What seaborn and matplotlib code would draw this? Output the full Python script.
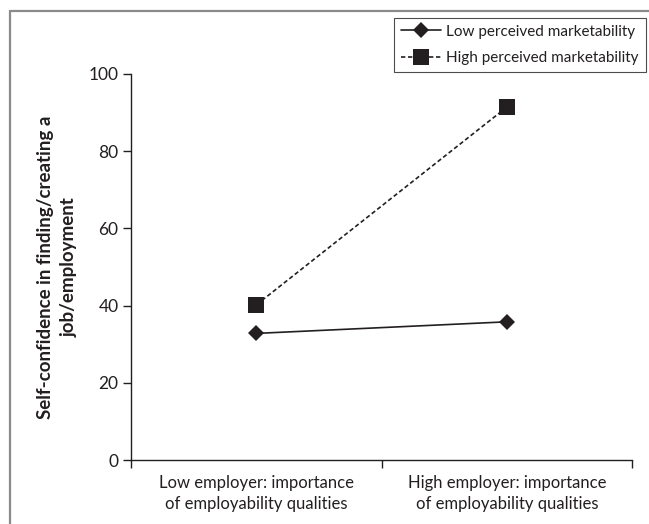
import matplotlib
matplotlib.use("Agg")
import matplotlib.pyplot as plt
import seaborn as sns
import pandas as pd
from matplotlib.lines import Line2D

categories = ["Low employer: importance\nof employability qualities",
              "High employer: importance\nof employability qualities"]
series_names = ["Low perceived marketability", "High perceived marketability"]
low_market = [32.8, 35.8]
high_market = [40.2, 91.4]
y_ticks = [0, 20, 40, 60, 80, 100]

df = pd.DataFrame({
    "employer": categories * 2,
    "value": low_market + high_market,
    "group": [series_names[0]] * 2 + [series_names[1]] * 2,
})

sns.set_style("white")
plt.rcParams['font.family'] = ['Lato', 'DejaVu Sans']

INK = "#231f20"
fig = plt.figure(figsize=(6.49, 5.24), dpi=100)
ax = fig.add_axes([0.202, 0.122, 0.772, 0.737])

sns.pointplot(data=df, x="employer", y="value", hue="group",
              hue_order=series_names, order=categories,
              palette=[INK, INK], markers=["D", "s"],
              linestyles=["-", "--"], ax=ax, legend=False,
              markersize=8, linewidth=1.2)

for line in ax.lines:
    if line.get_marker() == "s":
        line.set_markersize(11)
        line.set_dashes((2.6, 1.6))
    elif line.get_marker() == "D":
        line.set_markersize(8)
    line.set_markeredgewidth(0)

ax.set_ylim(0, 100)
ax.set_xlim(-0.5, 1.5)
ax.set_yticks(y_ticks)
ax.set_xticks([0, 1])
ax.set_xticklabels(categories, fontsize=12, color=INK, linespacing=1.35)
ax.tick_params(axis="x", length=0, pad=11)
ax.tick_params(axis="y", length=6, width=1, color=INK, direction="out",
               labelsize=12.5, labelcolor=INK, left=True, pad=3)
ax.set_xticks([-0.5, 0.5, 1.5], minor=True)
ax.tick_params(axis="x", which="minor", length=6, width=1, color=INK,
               direction="out", bottom=True)
for s in ["top", "right"]:
    ax.spines[s].set_visible(False)
for s in ["left", "bottom"]:
    ax.spines[s].set_color(INK)
    ax.spines[s].set_linewidth(1)
ax.set_xlabel("")
ax.set_ylabel("Self-confidence in finding/creating a\njob/employment",
              fontsize=13.5, fontweight="bold", color=INK, labelpad=8,
              linespacing=1.45)

handles = [
    Line2D([], [], color=INK, linestyle="-", marker="D", markersize=8,
           markeredgewidth=0, linewidth=1.2),
    Line2D([], [], color=INK, linestyle=(0, (2.6, 1.6)), marker="s", markersize=11,
           markeredgewidth=0, linewidth=1.2),
]
leg = fig.legend(handles, series_names, loc="upper right",
                 bbox_to_anchor=(0.995, 0.966), frameon=True, fancybox=False,
                 fontsize=11, handlelength=2.6, borderpad=0.45,
                 labelspacing=0.75, handletextpad=0.35, borderaxespad=0,
                 handleheight=0.9)
leg.get_frame().set_edgecolor(INK)
leg.get_frame().set_linewidth(0.8)
for t in leg.get_texts():
    t.set_color(INK)

fig.add_artist(Line2D([10 / 649, 1], [1 - 10.5 / 524, 1 - 10.5 / 524],
                      transform=fig.transFigure, color="#8a8a8a", linewidth=1.6))
fig.add_artist(Line2D([10 / 649, 10 / 649], [0, 1 - 10.5 / 524],
                      transform=fig.transFigure, color="#8a8a8a", linewidth=1.6))

fig.savefig("out.png", dpi=100)
